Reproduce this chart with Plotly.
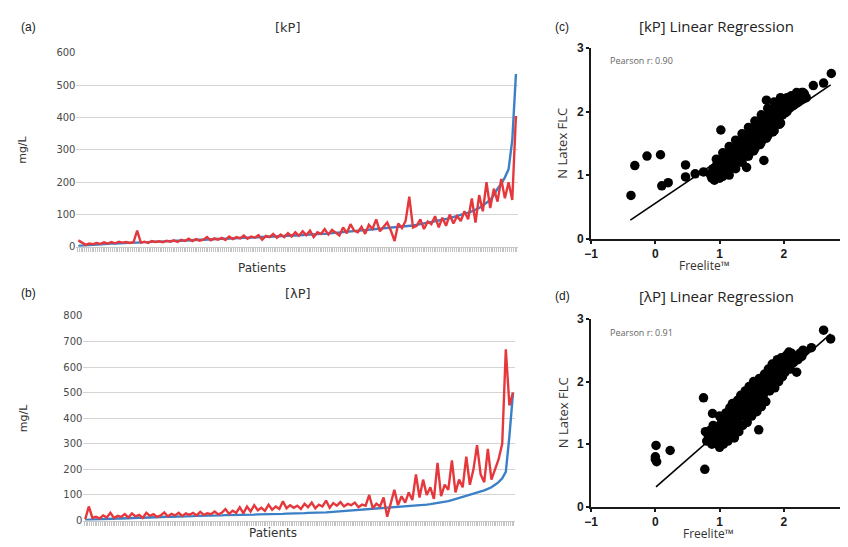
import plotly.graph_objects as go

# The page body has an 8px default margin; the figure is sized to fill the
# rest of the 848x547 window, and page coordinates are converted below.
PAGE_W, PAGE_H = 848, 547
OFF = 8
W, H = PAGE_W - OFF, PAGE_H - OFF

# ---------------- data: panel (a) kappa ----------------
kappa_freelite = [
    3, 4, 5, 6, 7, 8, 8, 9, 9, 10, 10, 11, 11, 12, 12,
    13, 13, 14, 14, 15, 15, 16, 16, 17, 17, 18, 18, 19, 19, 20,
    20, 21, 21, 22, 22, 23, 23, 24, 24, 25, 25, 26, 26, 27, 27,
    28, 28, 29, 29, 30, 30, 31, 31, 32, 32, 33, 33, 34, 35, 35,
    36, 36, 37, 38, 38, 39, 40, 40, 41, 42, 43, 44, 45, 46, 47,
    48, 49, 50, 51, 52, 53, 54, 55, 56, 57, 58, 59, 60, 61, 62,
    64, 66, 68, 70, 72, 74, 76, 78, 80, 83, 86, 89, 92, 95, 98,
    102, 106, 110, 115, 120, 128, 136, 145, 160, 180, 195, 215, 240, 330, 535,
]
kappa_latex = [
    20, 12, 6, 10, 8, 12, 9, 14, 10, 15, 11, 16, 13, 15, 12,
    14, 50, 13, 16, 12, 18, 15, 17, 14, 19, 16, 20, 15, 22, 18,
    25, 18, 24, 19, 22, 30, 20, 26, 22, 28, 21, 32, 24, 30, 26,
    35, 25, 32, 28, 36, 22, 34, 30, 40, 28, 38, 30, 42, 32, 45,
    34, 48, 36, 50, 30, 45, 40, 55, 38, 52, 44, 35, 60, 42, 70,
    50, 45, 62, 40, 68, 55, 85, 48, 60, 75, 50, 18, 72, 58, 80,
    155, 60, 65, 85, 55, 78, 70, 95, 60, 90, 65, 100, 72, 95, 80,
    110, 85, 150, 75, 160, 110, 200, 120, 180, 140, 210, 150, 200, 145, 405,
]

# ---------------- data: panel (b) lambda ----------------
lambda_freelite = [
    2, 3, 4, 5, 5, 6, 6, 7, 7, 8, 8, 9, 9, 10, 10,
    11, 11, 12, 12, 13, 13, 14, 14, 15, 15, 15, 16, 16, 17, 17,
    17, 18, 18, 19, 19, 19, 20, 20, 20, 21, 21, 21, 22, 22, 22,
    23, 23, 23, 24, 24, 24, 25, 25, 25, 26, 26, 27, 27, 28, 28,
    29, 29, 30, 30, 31, 31, 32, 32, 33, 34, 34, 35, 36, 37, 38,
    39, 40, 41, 42, 43, 44, 45, 46, 47, 48, 49, 50, 51, 52, 54,
    55, 56, 57, 58, 60, 62, 64, 66, 68, 70, 73, 76, 80, 84, 88,
    92, 96, 100, 104, 108, 112, 118, 124, 130, 140, 150, 165, 190, 330, 500,
]
lambda_latex = [
    5, 55, 10, 15, 8, 20, 12, 30, 10, 18, 14, 25, 12, 28, 16,
    22, 10, 30, 18, 25, 14, 20, 32, 16, 26, 20, 30, 18, 28, 22,
    30, 20, 34, 22, 28, 25, 35, 24, 30, 45, 26, 38, 30, 52, 28,
    55, 35, 60, 40, 50, 38, 62, 42, 55, 45, 75, 48, 60, 50, 58,
    45, 65, 52, 70, 48, 62, 55, 78, 50, 68, 58, 72, 55, 65, 60,
    70, 52, 62, 58, 100, 48, 66, 55, 90, 15, 70, 120, 60, 95, 70,
    110, 80, 180, 90, 160, 100, 130, 85, 225, 95, 140, 120, 235, 110, 160,
    130, 250, 140, 200, 295, 180, 150, 280, 160, 200, 240, 300, 670, 450, 500,
]
patients = list(range(1, len(kappa_freelite) + 1))

# ---------------- data: panel (c) kappa regression (log values) ----------------
kappa_points = [
    (-0.38, 0.68), (-0.32, 1.15), (-0.13, 1.30), (0.08, 1.32), (0.10, 0.83), (0.20, 0.88),
    (0.47, 1.16), (0.47, 0.97), (0.62, 1.02), (0.75, 1.05), (1.02, 1.71), (1.42, 1.12),
    (1.69, 1.23), (1.73, 2.18), (2.30, 2.30), (2.46, 2.41), (2.62, 2.45), (2.74, 2.60),
    (0.85, 1.02), (0.88, 0.95), (0.90, 1.10), (0.92, 0.92), (0.93, 1.05), (0.95, 1.15),
    (0.96, 0.98), (0.98, 1.08), (1.00, 0.95), (1.00, 1.20), (1.02, 1.05), (1.03, 1.12),
    (1.05, 0.98), (1.06, 1.25), (1.08, 1.10), (1.10, 1.02), (1.10, 1.30), (1.12, 1.18),
    (1.13, 1.08), (1.15, 1.35), (1.16, 1.22), (1.18, 1.12), (1.20, 1.28), (1.20, 1.40),
    (1.22, 1.15), (1.23, 1.32), (1.25, 1.20), (1.26, 1.45), (1.28, 1.30), (1.30, 1.22),
    (1.30, 1.50), (1.32, 1.38), (1.33, 1.28), (1.35, 1.45), (1.36, 1.55), (1.38, 1.35),
    (1.40, 1.48), (1.40, 1.60), (1.42, 1.40), (1.43, 1.30), (1.45, 1.55), (1.46, 1.65),
    (1.48, 1.45), (1.50, 1.58), (1.50, 1.70), (1.52, 1.50), (1.53, 1.38), (1.55, 1.62),
    (1.56, 1.75), (1.58, 1.55), (1.60, 1.68), (1.60, 1.80), (1.62, 1.60), (1.63, 1.48),
    (1.65, 1.72), (1.66, 1.85), (1.68, 1.65), (1.70, 1.78), (1.70, 1.90), (1.72, 1.70),
    (1.73, 1.58), (1.75, 1.82), (1.76, 1.95), (1.78, 1.75), (1.80, 1.88), (1.80, 2.00),
    (1.82, 1.78), (1.83, 1.68), (1.85, 1.92), (1.86, 2.05), (1.88, 1.85), (1.90, 1.98),
    (1.90, 2.10), (1.92, 1.88), (1.93, 1.80), (1.95, 2.02), (1.96, 2.12), (1.98, 1.95),
    (2.00, 2.08), (2.00, 2.18), (2.02, 1.98), (2.04, 2.12), (2.05, 2.22), (2.08, 2.05),
    (2.10, 2.15), (2.12, 2.25), (2.15, 2.10), (2.18, 2.20), (2.20, 2.30), (2.22, 2.15),
    (2.25, 2.25), (2.28, 2.30), (2.30, 2.20), (2.32, 2.28), (2.35, 2.22), (1.15, 1.00),
    (1.25, 1.10), (1.35, 1.20), (1.45, 1.30), (1.55, 1.42), (1.65, 1.52), (1.75, 1.62),
    (1.85, 1.70), (1.95, 1.82), (0.95, 1.25), (1.05, 1.35), (1.15, 1.45), (1.25, 1.55),
    (1.35, 1.65), (1.45, 1.75), (1.55, 1.85), (1.65, 1.95), (1.75, 2.05), (1.85, 2.15),
    (1.95, 2.22), (2.05, 2.00), (1.10, 1.15), (1.20, 1.20), (1.30, 1.35), (1.40, 1.42),
    (1.50, 1.52), (1.60, 1.62), (1.70, 1.72), (1.80, 1.82), (1.90, 1.92), (2.00, 2.02),
]
kappa_fit_x = [-0.39, 2.73]
kappa_fit_y = [0.29, 2.42]
kappa_r = "Pearson r: 0.90"

# ---------------- data: panel (d) lambda regression (log values) ----------------
lambda_points = [
    (0.00, 0.80), (0.01, 0.98), (0.02, 0.72), (0.00, 0.76), (0.23, 0.90), (0.75, 1.74),
    (0.77, 0.60), (0.89, 1.49), (1.61, 1.23), (2.62, 2.82), (2.73, 2.68), (2.43, 2.54),
    (2.32, 2.48), (2.08, 2.47),
    (0.78, 1.20), (0.80, 1.05), (0.82, 1.15), (0.85, 1.22), (0.88, 1.00), (0.90, 1.12),
    (0.92, 1.25), (0.95, 1.05), (0.98, 1.18), (1.00, 0.95), (1.00, 1.30), (1.02, 1.10),
    (1.03, 1.40), (1.05, 1.20), (1.06, 1.00), (1.08, 1.32), (1.10, 1.15), (1.10, 1.50),
    (1.12, 1.25), (1.13, 1.05), (1.15, 1.40), (1.16, 1.58), (1.18, 1.20), (1.20, 1.32),
    (1.20, 1.65), (1.22, 1.45), (1.23, 1.10), (1.25, 1.55), (1.26, 1.30), (1.28, 1.70),
    (1.30, 1.42), (1.30, 1.20), (1.32, 1.60), (1.33, 1.78), (1.35, 1.50), (1.36, 1.30),
    (1.38, 1.68), (1.40, 1.85), (1.40, 1.45), (1.42, 1.60), (1.43, 1.35), (1.45, 1.75),
    (1.46, 1.92), (1.48, 1.55), (1.50, 1.70), (1.50, 1.45), (1.52, 1.88), (1.53, 2.00),
    (1.55, 1.62), (1.56, 1.80), (1.58, 1.52), (1.60, 1.95), (1.60, 1.70), (1.62, 2.05),
    (1.63, 1.85), (1.65, 1.60), (1.66, 2.00), (1.68, 1.78), (1.70, 2.12), (1.70, 1.90),
    (1.72, 1.68), (1.75, 2.05), (1.76, 2.20), (1.78, 1.85), (1.80, 2.15), (1.80, 1.95),
    (1.82, 2.28), (1.84, 2.05), (1.86, 1.90), (1.88, 2.25), (1.90, 2.10), (1.90, 2.35),
    (1.92, 2.00), (1.95, 2.20), (1.96, 2.38), (1.98, 2.08), (2.00, 2.30), (2.02, 2.15),
    (2.04, 2.42), (2.05, 2.25), (2.08, 2.35), (2.10, 2.20), (2.12, 2.45), (2.15, 2.30),
    (2.18, 2.40), (2.20, 2.15), (2.22, 2.35), (2.25, 2.45), (2.28, 2.40), (2.30, 2.50),
    (1.05, 1.25), (1.15, 1.30), (1.25, 1.40), (1.35, 1.60), (1.45, 1.65), (1.55, 1.75),
    (1.65, 1.85), (1.75, 1.95), (1.85, 2.10), (1.95, 2.12), (0.90, 1.30), (1.00, 1.45),
    (1.10, 1.38), (1.20, 1.50), (1.30, 1.58), (1.40, 1.70), (1.50, 1.82), (1.60, 1.85),
    (1.70, 2.00), (1.80, 2.05), (1.08, 1.22), (1.18, 1.38), (1.28, 1.48), (1.38, 1.55),
    (1.48, 1.68), (1.58, 1.82), (1.68, 1.92), (1.78, 2.02), (1.90, 2.18), (2.00, 2.20),
]
lambda_fit_x = [0.01, 2.73]
lambda_fit_y = [0.32, 2.76]
lambda_r = "Pearson r: 0.91"

line_ticks_a = [0, 100, 200, 300, 400, 500, 600]
line_ticks_b = [0, 100, 200, 300, 400, 500, 600, 700, 800]
scatter_xticks = [-1, 0, 1, 2, 3]
scatter_yticks = [0, 1, 2, 3]

BLUE = "#3b80c6"
RED = "#e5383d"


def X(px):
    return (px - OFF) / W


def Y(py):
    return 1 - (py - OFF) / H


fig = go.Figure()

# line charts
fig.add_trace(go.Scatter(x=patients, y=kappa_freelite, mode="lines",
                         line=dict(color=BLUE, width=2.4), xaxis="x", yaxis="y"))
fig.add_trace(go.Scatter(x=patients, y=kappa_latex, mode="lines",
                         line=dict(color=RED, width=2.4), xaxis="x", yaxis="y"))
fig.add_trace(go.Scatter(x=patients, y=lambda_freelite, mode="lines",
                         line=dict(color=BLUE, width=2.4), xaxis="x2", yaxis="y2"))
fig.add_trace(go.Scatter(x=patients, y=lambda_latex, mode="lines",
                         line=dict(color=RED, width=2.4), xaxis="x2", yaxis="y2"))

# scatter charts
fig.add_trace(go.Scatter(x=[p[0] for p in kappa_points], y=[p[1] for p in kappa_points],
                         mode="markers", marker=dict(color="black", size=9.5),
                         xaxis="x3", yaxis="y3", cliponaxis=False))
fig.add_trace(go.Scatter(x=kappa_fit_x, y=kappa_fit_y, mode="lines",
                         line=dict(color="black", width=1.6), xaxis="x3", yaxis="y3"))
fig.add_trace(go.Scatter(x=[p[0] for p in lambda_points], y=[p[1] for p in lambda_points],
                         mode="markers", marker=dict(color="black", size=9.5),
                         xaxis="x4", yaxis="y4", cliponaxis=False))
fig.add_trace(go.Scatter(x=lambda_fit_x, y=lambda_fit_y, mode="lines",
                         line=dict(color="black", width=1.6), xaxis="x4", yaxis="y4"))

line_tickfont = dict(family="DejaVu Sans", size=10, color="#4a4a4a")
N = len(patients)

line_x = dict(range=[0.5, N + 0.5], tickmode="linear", tick0=0.75, dtick=0.5,
              ticks="outside", ticklen=4, tickwidth=1, tickcolor="#c4c4c4",
              showticklabels=False, showgrid=False, zeroline=False,
              showline=True, linecolor="#c8c8c8", linewidth=1)
line_y = dict(showgrid=True, gridcolor="#d4d4d4", gridwidth=1, zeroline=False,
              tickfont=line_tickfont, ticks="", showline=False)

sc_axis_common = dict(showgrid=False, zeroline=False, showline=True, linecolor="#1a1a1a",
                      linewidth=2, ticks="outside", ticklen=3, tickwidth=2, tickcolor="#1a1a1a",
                      tickfont=dict(family="Liberation Sans", size=12, color="#1a1a1a", weight="bold"))

A_TOP, A_BOT = 47, 246
B_TOP, B_BOT = 317, 527
C_TOP, C_BOT = 42, 237.5
D_TOP, D_BOT = 320, 513

fig.update_layout(
    width=W, height=H, margin=dict(l=0, r=0, t=0, b=0),
    paper_bgcolor="white", plot_bgcolor="white", showlegend=False,
    xaxis=dict(domain=[X(70), X(515)], anchor="y", **line_x),
    yaxis=dict(domain=[Y(A_BOT), Y(A_TOP)], anchor="x", range=[0, 600],
               tickvals=line_ticks_a, **line_y),
    xaxis2=dict(domain=[X(77), X(512)], anchor="y2", **line_x),
    yaxis2=dict(domain=[Y(B_BOT), Y(B_TOP)], anchor="x2", range=[0, 800],
                tickvals=line_ticks_b, **line_y),
    xaxis3=dict(domain=[X(589), X(848)], anchor="y3", range=[-1, 3],
                tickvals=scatter_xticks, **sc_axis_common),
    yaxis3=dict(domain=[Y(C_BOT), Y(C_TOP)], anchor="x3", range=[0, 3],
                tickvals=scatter_yticks, **sc_axis_common),
    xaxis4=dict(domain=[X(589), X(848)], anchor="y4", range=[-1, 3],
                tickvals=scatter_xticks, **sc_axis_common),
    yaxis4=dict(domain=[Y(D_BOT), Y(D_TOP)], anchor="x4", range=[0, 3],
                tickvals=scatter_yticks, **sc_axis_common),
)

ann = []


def add_text(text, px, py, size, color="#222", family="DejaVu Sans", angle=0,
             xanchor="center", weight="normal"):
    ann.append(dict(text=text, x=X(px), y=Y(py), xref="paper", yref="paper",
                    showarrow=False, xanchor=xanchor, yanchor="middle", textangle=angle,
                    font=dict(family=family, size=size, color=color, weight=weight)))


# panel labels
add_text("(a)", 12, 20, 12, family="Liberation Sans", xanchor="left")
add_text("(b)", 12, 293, 12, family="Liberation Sans", xanchor="left")
add_text("(c)", 551, 20, 12, family="Liberation Sans", xanchor="left")
add_text("(d)", 551, 296, 12, family="Liberation Sans", xanchor="left")

# line chart titles and axis titles
add_text("[kP]", 283, 21, 13, color="#333")
add_text("[λP]", 293, 294, 13, color="#333")
add_text("mg/L", 16, (A_TOP + A_BOT) / 2, 11, color="#333", angle=-90)
add_text("mg/L", 16, (B_TOP + B_BOT) / 2, 11, color="#333", angle=-90)
add_text("Patients", 257, 268, 12, color="#333")
add_text("Patients", 268, 540, 12, color="#333")

# scatter titles and axis titles
add_text("[kP] Linear Regression", 715, 19, 15, color="#222", family="Open Sans")
add_text("[λP] Linear Regression", 715, 296, 15, color="#222", family="Open Sans")
add_text("N Latex FLC", 560, (C_TOP + C_BOT) / 2, 13, color="#333", family="Open Sans", angle=-90)
add_text("N Latex FLC", 560, (D_TOP + D_BOT) / 2, 13, color="#333", family="Open Sans", angle=-90)
add_text("Freelite™", 703, 265, 12, color="#333", family="Open Sans")
add_text("Freelite™", 707, 540, 12, color="#333", family="Open Sans")
add_text(kappa_r, 606, 55, 9, color="#666", family="Open Sans", xanchor="left")
add_text(lambda_r, 606, 334, 9, color="#666", family="Open Sans", xanchor="left")

fig.update_layout(annotations=ann)

fig.write_html("out.html")
